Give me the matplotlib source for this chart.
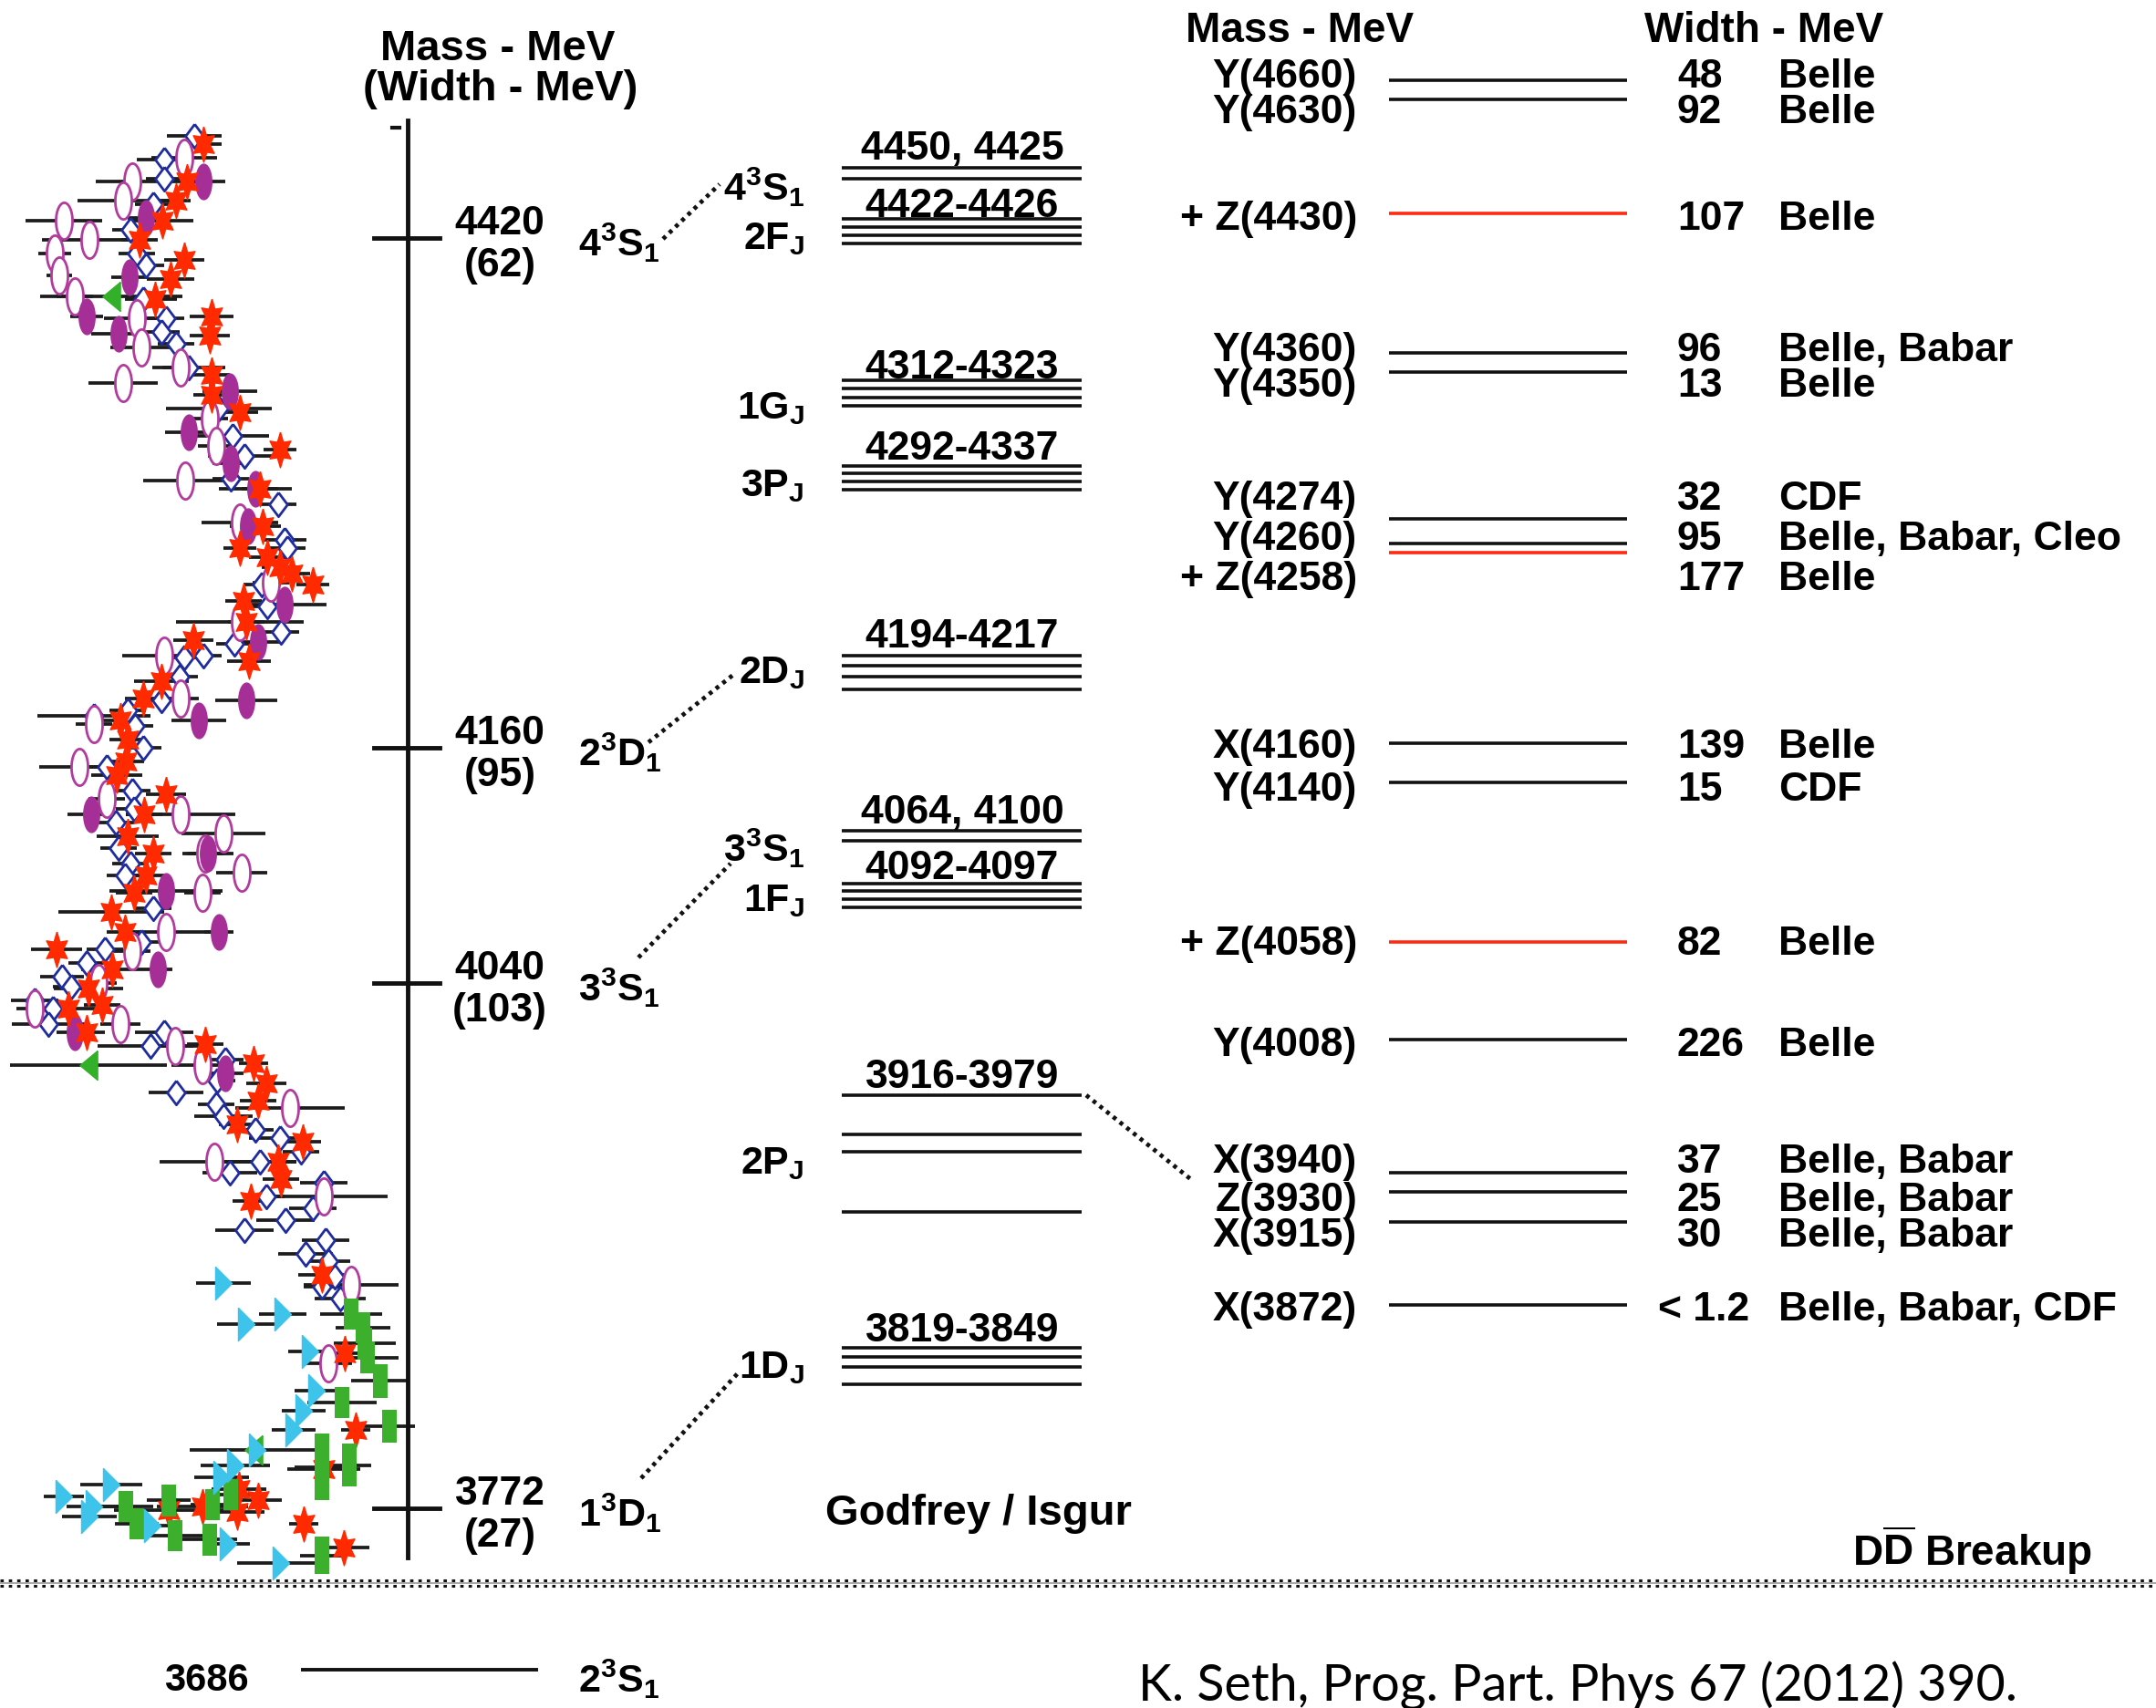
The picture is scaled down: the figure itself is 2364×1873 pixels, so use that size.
import numpy as np
import matplotlib
matplotlib.use('Agg')
from matplotlib import pyplot as plt
from matplotlib import transforms as mtrans

plt.rcParams['font.family'] = ['Liberation Sans', 'DejaVu Sans']
plt.rcParams['font.weight'] = 'bold'
plt.rcParams['mathtext.fontset'] = 'custom'
plt.rcParams['mathtext.rm'] = 'Liberation Sans:bold'
plt.rcParams['mathtext.it'] = 'Liberation Sans:bold'
plt.rcParams['mathtext.bf'] = 'Liberation Sans:bold'

# ---------------- data ----------------
# R scan points: (R, sqrt(s) in MeV, R error)
stars = [(2.885, 4468, 0.10), (2.975, 4449, 0.10), (3.035, 4439, 0.08), (3.11, 4429, 0.17),
         (3.235, 4419, 0.10), (2.99, 4409, 0.11), (3.065, 4399, 0.13), (3.15, 4389, 0.12),
         (2.84, 4380, 0.12), (2.85, 4370, 0.11), (2.84, 4350, 0.10), (2.84, 4340, 0.10),
         (2.685, 4331, 0.10), (2.465, 4312, 0.09), (2.575, 4292, 0.10), (2.56, 4273, 0.10),
         (2.685, 4262, 0.09), (2.535, 4257, 0.10), (2.465, 4252, 0.10), (2.40, 4249, 0.10),
         (2.285, 4243, 0.09), (2.665, 4235, 0.10), (2.65, 4224, 0.10), (2.94, 4215, 0.11),
         (2.635, 4204, 0.12), (3.115, 4194, 0.15), (3.215, 4185, 0.10), (3.34, 4174, 0.10),
         (3.30, 4164, 0.10), (3.31, 4153, 0.10), (3.36, 4146, 0.14), (3.09, 4136, 0.11),
         (3.21, 4126, 0.10), (3.30, 4115, 0.17), (3.16, 4106, 0.10), (3.20, 4095, 0.10),
         (3.265, 4086, 0.10), (3.39, 4076, 0.29), (3.315, 4066, 0.10), (3.69, 4057, 0.14),
         (3.385, 4047, 0.17), (3.515, 4037, 0.19), (3.625, 4027, 0.18), (3.44, 4029, 0.10),
         (3.525, 4015, 0.10), (2.875, 4009, 0.10), (2.61, 3999, 0.08), (2.54, 3989, 0.11),
         (2.585, 3980, 0.10), (2.70, 3968, 0.10), (2.34, 3959, 0.10), (2.475, 3949, 0.10),
         (2.46, 3940, 0.10), (2.625, 3929, 0.10), (2.235, 3891, 0.13), (2.11, 3851, 0.10),
         (2.05, 3812, 0.08), (2.225, 3792, 0.20), (2.69, 3782, 0.15), (2.70, 3770, 0.15),
         (2.585, 3776, 0.13), (2.89, 3773, 0.25), (3.075, 3771, 0.30), (2.335, 3764, 0.08),
         (2.115, 3752, 0.14)]

open_ell = [(2.99, 4461, 0.18), (3.275, 4449, 0.20), (3.325, 4439, 0.25), (3.65, 4429, 0.21),
            (3.51, 4419, 0.26), (3.70, 4412, 0.09), (3.675, 4401, 0.07), (3.59, 4390, 0.10),
            (3.25, 4379, 0.18), (3.225, 4364, 0.17), (3.01, 4354, 0.10), (3.325, 4346, 0.19),
            (2.85, 4328, 0.10), (2.815, 4314, 0.10), (2.985, 4296, 0.23), (2.685, 4275, 0.21),
            (2.515, 4244, 0.10), (2.685, 4224, 0.35), (3.10, 4207, 0.23), (3.01, 4185, 0.10),
            (3.485, 4172, 0.10), (3.565, 4150, 0.22), (3.415, 4134, 0.10), (3.01, 4126, 0.30),
            (2.775, 4116, 0.23), (2.875, 4106, 0.10), (2.675, 4096, 0.14), (2.89, 4086, 0.10),
            (3.09, 4066, 0.26), (3.275, 4056, 0.10), (3.46, 4040, 0.10), (3.81, 4027, 0.10),
            (3.34, 4019, 0.11), (3.04, 4008, 0.10), (2.89, 3998, 0.17), (2.41, 3976, 0.30),
            (2.825, 3949, 0.30), (2.225, 3931, 0.35), (2.075, 3886, 0.26), (2.20, 3846, 0.13)]

filled_ell = [(2.885, 4449, 0.12), (3.20, 4430, 0.10), (3.29, 4400, 0.10), (3.525, 4380, 0.09),
              (3.35, 4371, 0.15), (2.74, 4342, 0.15), (2.965, 4321, 0.13), (2.735, 4305, 0.10),
              (2.60, 4292, 0.20), (2.64, 4273, 0.10), (2.44, 4233, 0.23), (2.585, 4214, 0.14),
              (2.65, 4184, 0.17), (2.91, 4174, 0.15), (3.50, 4126, 0.13), (2.86, 4106, 0.14),
              (3.09, 4087, 0.31), (2.80, 4066, 0.08), (3.135, 4047, 0.08), (3.59, 4015, 0.10),
              (2.765, 3994, 0.10)]

diamonds = [(2.935, 4472, 0.15), (3.10, 4460, 0.15), (3.10, 4450, 0.10), (3.16, 4437, 0.10),
            (3.285, 4424, 0.10), (3.25, 4412, 0.10), (3.20, 4406, 0.10), (3.215, 4389, 0.10),
            (3.09, 4379, 0.10), (3.115, 4372, 0.10), (3.035, 4366, 0.10), (2.965, 4354, 0.20),
            (2.80, 4333, 0.29), (2.725, 4319, 0.20), (2.66, 4309, 0.20), (2.735, 4297, 0.10),
            (2.475, 4284, 0.10), (2.44, 4266, 0.12), (2.425, 4262, 0.10), (2.565, 4243, 0.10),
            (2.535, 4232, 0.10), (2.46, 4219, 0.10), (2.715, 4213, 0.10), (2.99, 4206, 0.10),
            (2.885, 4207, 0.10), (3.015, 4196, 0.10), (3.115, 4184, 0.10), (3.485, 4176, 0.31),
            (3.30, 4179, 0.10), (3.26, 4171, 0.10), (3.215, 4160, 0.10), (3.415, 4150, 0.10),
            (3.275, 4138, 0.10), (3.265, 4129, 0.10), (3.365, 4122, 0.10), (3.35, 4109, 0.10),
            (3.285, 4101, 0.10), (3.315, 4095, 0.10), (3.16, 4078, 0.10), (3.225, 4061, 0.10),
            (3.425, 4057, 0.10), (3.525, 4050, 0.10), (3.66, 4043, 0.12), (3.61, 4038, 0.10),
            (3.81, 4031, 0.13), (3.71, 4027, 0.10), (3.735, 4019, 0.20), (3.10, 4015, 0.16),
            (3.175, 4008, 0.29), (2.765, 4001, 0.10), (2.81, 3990, 0.10), (3.035, 3984, 0.15),
            (2.815, 3978, 0.10), (2.775, 3972, 0.16), (2.60, 3965, 0.10), (2.465, 3961, 0.17),
            (2.35, 3954, 0.10), (2.575, 3949, 0.20), (2.74, 3943, 0.15), (2.225, 3938, 0.13),
            (2.54, 3931, 0.10), (2.285, 3925, 0.13), (2.435, 3919, 0.16), (2.66, 3914, 0.16),
            (2.215, 3909, 0.13), (2.325, 3902, 0.15), (2.20, 3898, 0.12), (2.165, 3890, 0.10),
            (2.235, 3885, 0.10), (2.135, 3879, 0.14)]

green_tri = [(3.39, 4390, 0.39), (3.515, 3998, 0.43), (2.61, 3802, 0.0)]

cyan_tri = [(2.775, 3887, 0.15), (2.65, 3866, 0.16), (2.45, 3871, 0.13), (2.30, 3852, 0.12),
            (2.265, 3832, 0.12), (2.335, 3822, 0.12), (2.39, 3812, 0.12), (2.59, 3802, 0.37),
            (2.71, 3794, 0.19), (2.785, 3788, 0.15), (3.39, 3784, 0.17), (3.65, 3778, 0.11),
            (3.485, 3773, 0.15), (3.51, 3768, 0.15), (3.165, 3763, 0.12), (2.75, 3754, 0.12),
            (2.46, 3744, 0.24)]

# (R, sqrt(s), R error, energy spread in MeV)
green_box = [(2.075, 3871, 0.17, 16), (2.01, 3864, 0.15, 16), (2.00, 3856, 0.17, 16),
             (1.985, 3849, 0.17, 16), (1.915, 3837, 0.16, 17), (2.125, 3826, 0.19, 16),
             (1.865, 3814, 0.14, 17), (2.235, 3793, 0.15, 34), (2.085, 3794, 0.12, 22),
             (2.835, 3774, 0.12, 16), (2.735, 3779, 0.12, 16), (3.31, 3773, 0.15, 16),
             (3.25, 3764, 0.12, 16), (3.075, 3776, 0.12, 16), (3.04, 3758, 0.15, 16),
             (2.85, 3756, 0.15, 16), (2.235, 3748, 0.12, 19)]

# psi states on the mass axis
psi_mass = [4420, 4160, 4040, 3772]
psi_width = [62, 95, 103, 27]
psi_term = [r'4$^3$S$_1$', r'2$^3$D$_1$', r'3$^3$S$_1$', r'1$^3$D$_1$']

# Godfrey / Isgur predictions
gi_range = ['4450, 4425', '4422-4426', '4312-4323', '4292-4337', '4194-4217',
            '4064, 4100', '4092-4097', '3916-3979', '3819-3849']
gi_term = [r'4$^3$S$_1$', r'2F$_J$', r'1G$_J$', r'3P$_J$', r'2D$_J$',
           r'3$^3$S$_1$', r'1F$_J$', r'2P$_J$', r'1D$_J$']

# XYZ states
xyz_name = ['Y(4660)', 'Y(4630)', '+ Z(4430)', 'Y(4360)', 'Y(4350)', 'Y(4274)', 'Y(4260)',
            '+ Z(4258)', 'X(4160)', 'Y(4140)', '+ Z(4058)', 'Y(4008)', 'X(3940)', 'Z(3930)',
            'X(3915)', 'X(3872)']
xyz_width = ['48', '92', '107', '96', '13', '32', '95', '177', '139', '15', '82', '226',
             '37', '25', '30', '< 1.2']
xyz_expt = ['Belle', 'Belle', 'Belle', 'Belle, Babar', 'Belle', 'CDF', 'Belle, Babar, Cleo',
            'Belle', 'Belle', 'CDF', 'Belle', 'Belle', 'Belle, Babar', 'Belle, Babar',
            'Belle, Babar', 'Belle, Babar, CDF']
xyz_charged = [False, False, True, False, False, False, False, True, False, False, True,
               False, False, False, False, False]

# ---------------- layout (pixel rows of the schematic columns) ----------------
gi_line_y = [[185, 197], [241, 250, 259, 268], [418, 427, 437, 446], [512, 520, 529, 538],
             [720, 731, 743, 757], [912, 923], [970, 978, 987, 996],
             [1202, 1245, 1264, 1330], [1479, 1489, 1500, 1519]]
gi_label_y = [159, 222, 399, 488, 694, 887, 948, 1177, 1455]
gi_term_y = [205, 258, 444, 529, 734, 930, 984, 1272, 1496]
xyz_line_y = [89, 110, 235, 388, 409, 570, 597, 607, 816, 859, 1034, 1141, 1287, 1308, 1341, 1432]
xyz_text_y = [80, 119, 236, 380, 419, 543, 587, 631, 815, 862, 1031, 1142, 1270, 1312, 1351, 1432]
connectors = [((727, 263), (789, 203)), ((711, 815), (804, 741)), ((700, 1051), (801, 948)),
              ((703, 1622), (809, 1507)), ((1191, 1202), (1308, 1296))]

FS = 32
BLACK = '#111111'
RED = '#ff2a12'

fig = plt.figure(figsize=(23.64, 18.74), dpi=100)
ax = fig.add_axes([0, 0, 1, 1])
ax.set_xlim(0, 2364)
ax.set_ylim(1874, 0)
ax.axis('off')

# R-scan panel: y = sqrt(s) in MeV, x = R (increasing to the left)
ax_r = fig.add_axes([0, 134 / 1874, 500 / 2364, 1640 / 1874])
ax_r.set_xlim(4.0, 1.5)
ax_r.set_ylim(3732.5, 4495.3)
ax_r.axis('off')


def verts_marker(x, y):
    return np.column_stack([x, y])


t = np.linspace(0, 2 * np.pi, 41)
ellipse_m = verts_marker(0.45 * np.cos(t), np.sin(t))
ang = np.deg2rad(90 + 30 * np.arange(13))
rad = np.where(np.arange(13) % 2 == 0, 1.0, 0.5)
star_m = verts_marker(0.68 * rad * np.cos(ang), rad * np.sin(ang))
diamond_m = [(0, 1), (0.75, 0), (0, -1), (-0.75, 0), (0, 1)]
right_tri_m = [(-0.5, 1), (0.5, 0), (-0.5, -1), (-0.5, 1)]
left_tri_m = [(0.6, 1), (-0.6, 0), (0.6, -1), (0.6, 1)]

groups = [
    (diamonds, dict(marker=diamond_m, ms=19, mfc='white', mec='#1e2c9e', mew=2.0)),
    (open_ell, dict(marker=ellipse_m, ms=29, mfc='white', mec='#b23c9e', mew=2.0)),
    (filled_ell, dict(marker=ellipse_m, ms=28, mfc='#a52f97', mec='#a52f97', mew=1)),
    (stars, dict(marker=star_m, ms=28, mfc='#ff2a00', mec='#ff2a00', mew=1)),
    (green_tri, dict(marker=left_tri_m, ms=23, mfc='#33b02a', mec='#33b02a', mew=1)),
    (cyan_tri, dict(marker=right_tri_m, ms=26, mfc='#3ec4ea', mec='#3ec4ea', mew=1)),
]

# error bars first
for pts, _ in groups:
    r, m, e = np.array(pts).T
    ax_r.errorbar(r, m, xerr=e, fmt='none', ecolor='#1c1c1c', elinewidth=2.7, capsize=0, zorder=1)
gb = np.array(green_box)
ax_r.errorbar(gb[:, 0], gb[:, 1], xerr=gb[:, 2], fmt='none', ecolor='#1c1c1c',
              elinewidth=2.7, capsize=0, zorder=1)

for i, (pts, style) in enumerate(groups):
    r, m, e = np.array(pts).T
    ax_r.plot(r, m, ls='none', zorder=2 + i, **style)
ax_r.bar(gb[:, 0], gb[:, 3], width=0.08, bottom=gb[:, 1] - gb[:, 3] / 2,
         color='#3cb02c', zorder=5)

# mass axis (x in pixels, y in MeV)
bt = mtrans.blended_transform_factory(ax.transData, ax_r.transData)
ax_r.plot([447, 447], [4480, 3747], color=BLACK, lw=3.5, transform=bt, clip_on=False, zorder=10)
ax_r.plot([430, 438], [4476, 4476], color=BLACK, lw=3, transform=bt, clip_on=False, zorder=10)
for m, w, term in zip(psi_mass, psi_width, psi_term):
    ax_r.plot([410, 482], [m, m], color=BLACK, lw=3.5, transform=bt, clip_on=False, zorder=10)
    ax_r.annotate(str(m), xy=(548, m), xycoords=bt, xytext=(0, 3.6), textcoords='offset points',
                  ha='center', va='baseline', fontsize=FS, annotation_clip=False)
    ax_r.annotate('(%d)' % w, xy=(548, m), xycoords=bt, xytext=(0, -29.5),
                  textcoords='offset points', ha='center', va='baseline', fontsize=FS,
                  annotation_clip=False)
    ax_r.annotate(term, xy=(634, m), xycoords=bt, xytext=(0, -13.5), textcoords='offset points',
                  ha='left', va='baseline', fontsize=31, annotation_clip=False)

ax.text(546, 66, 'Mass - MeV', ha='center', va='baseline', fontsize=34)
ax.text(549, 110, '(Width - MeV)', ha='center', va='baseline', fontsize=34)

# Godfrey / Isgur bundles
for rng, term, ys, ly, ty in zip(gi_range, gi_term, gi_line_y, gi_label_y, gi_term_y):
    ax.hlines(ys, 923, 1186, colors=BLACK, lw=2.6)
    ax.text(1055, ly + 16, rng, ha='center', va='baseline', fontsize=FS)
    ax.text(882, ty + 15, term, ha='right', va='baseline', fontsize=31)

for (x0, y0), (x1, y1) in connectors:
    ax.plot([x0, x1], [y0, y1], color=BLACK, lw=3.4, ls=(0, (0.9, 1.1)))

ax.text(1073, 1672, 'Godfrey / Isgur', ha='center', va='baseline', fontsize=34)

# XYZ states
ax.text(1425, 46, 'Mass - MeV', ha='center', va='baseline', fontsize=33)
ax.text(1934, 46, 'Width - MeV', ha='center', va='baseline', fontsize=33)
for name, wid, ex, ch, yl, yt in zip(xyz_name, xyz_width, xyz_expt, xyz_charged,
                                     xyz_line_y, xyz_text_y):
    ax.hlines(yl, 1523, 1784, colors=RED if ch else BLACK, lw=2.6)
    ax.text(1488, yt + 16, name, ha='right', va='baseline', fontsize=FS)
    ax.text(1818 if wid.startswith('<') else 1839, yt + 16, wid, ha='left', va='baseline',
            fontsize=FS)
    ax.text(1950, yt + 16, ex, ha='left', va='baseline', fontsize=FS)

# open-charm threshold
ax.plot([0, 2364], [1737, 1737], color='#999999', lw=1.2)
ax.plot([0, 2364], [1734, 1734], color=BLACK, lw=2.2, ls=(0, (1.2, 1.8)))
ax.plot([0, 2364], [1740, 1740], color=BLACK, lw=2.2, ls=(0, (1.2, 1.8)))
ax.text(2294, 1717, r'D$\overline{\mathrm{D}}$ Breakup', ha='right', va='baseline', fontsize=33)

# psi(2S) below threshold
ax.hlines(1832, 330, 590, colors=BLACK, lw=2.8)
ax.text(226, 1854, '3686', ha='center', va='baseline', fontsize=30)
ax.text(634, 1856, r'2$^3$S$_1$', ha='left', va='baseline', fontsize=31)

ax.text(1248, 1866, 'K. Seth, Prog. Part. Phys 67 (2012) 390.', ha='left', va='baseline',
        fontsize=40, fontweight='normal', family=['Lato', 'DejaVu Sans'])

fig.savefig('out.png', dpi=100)
